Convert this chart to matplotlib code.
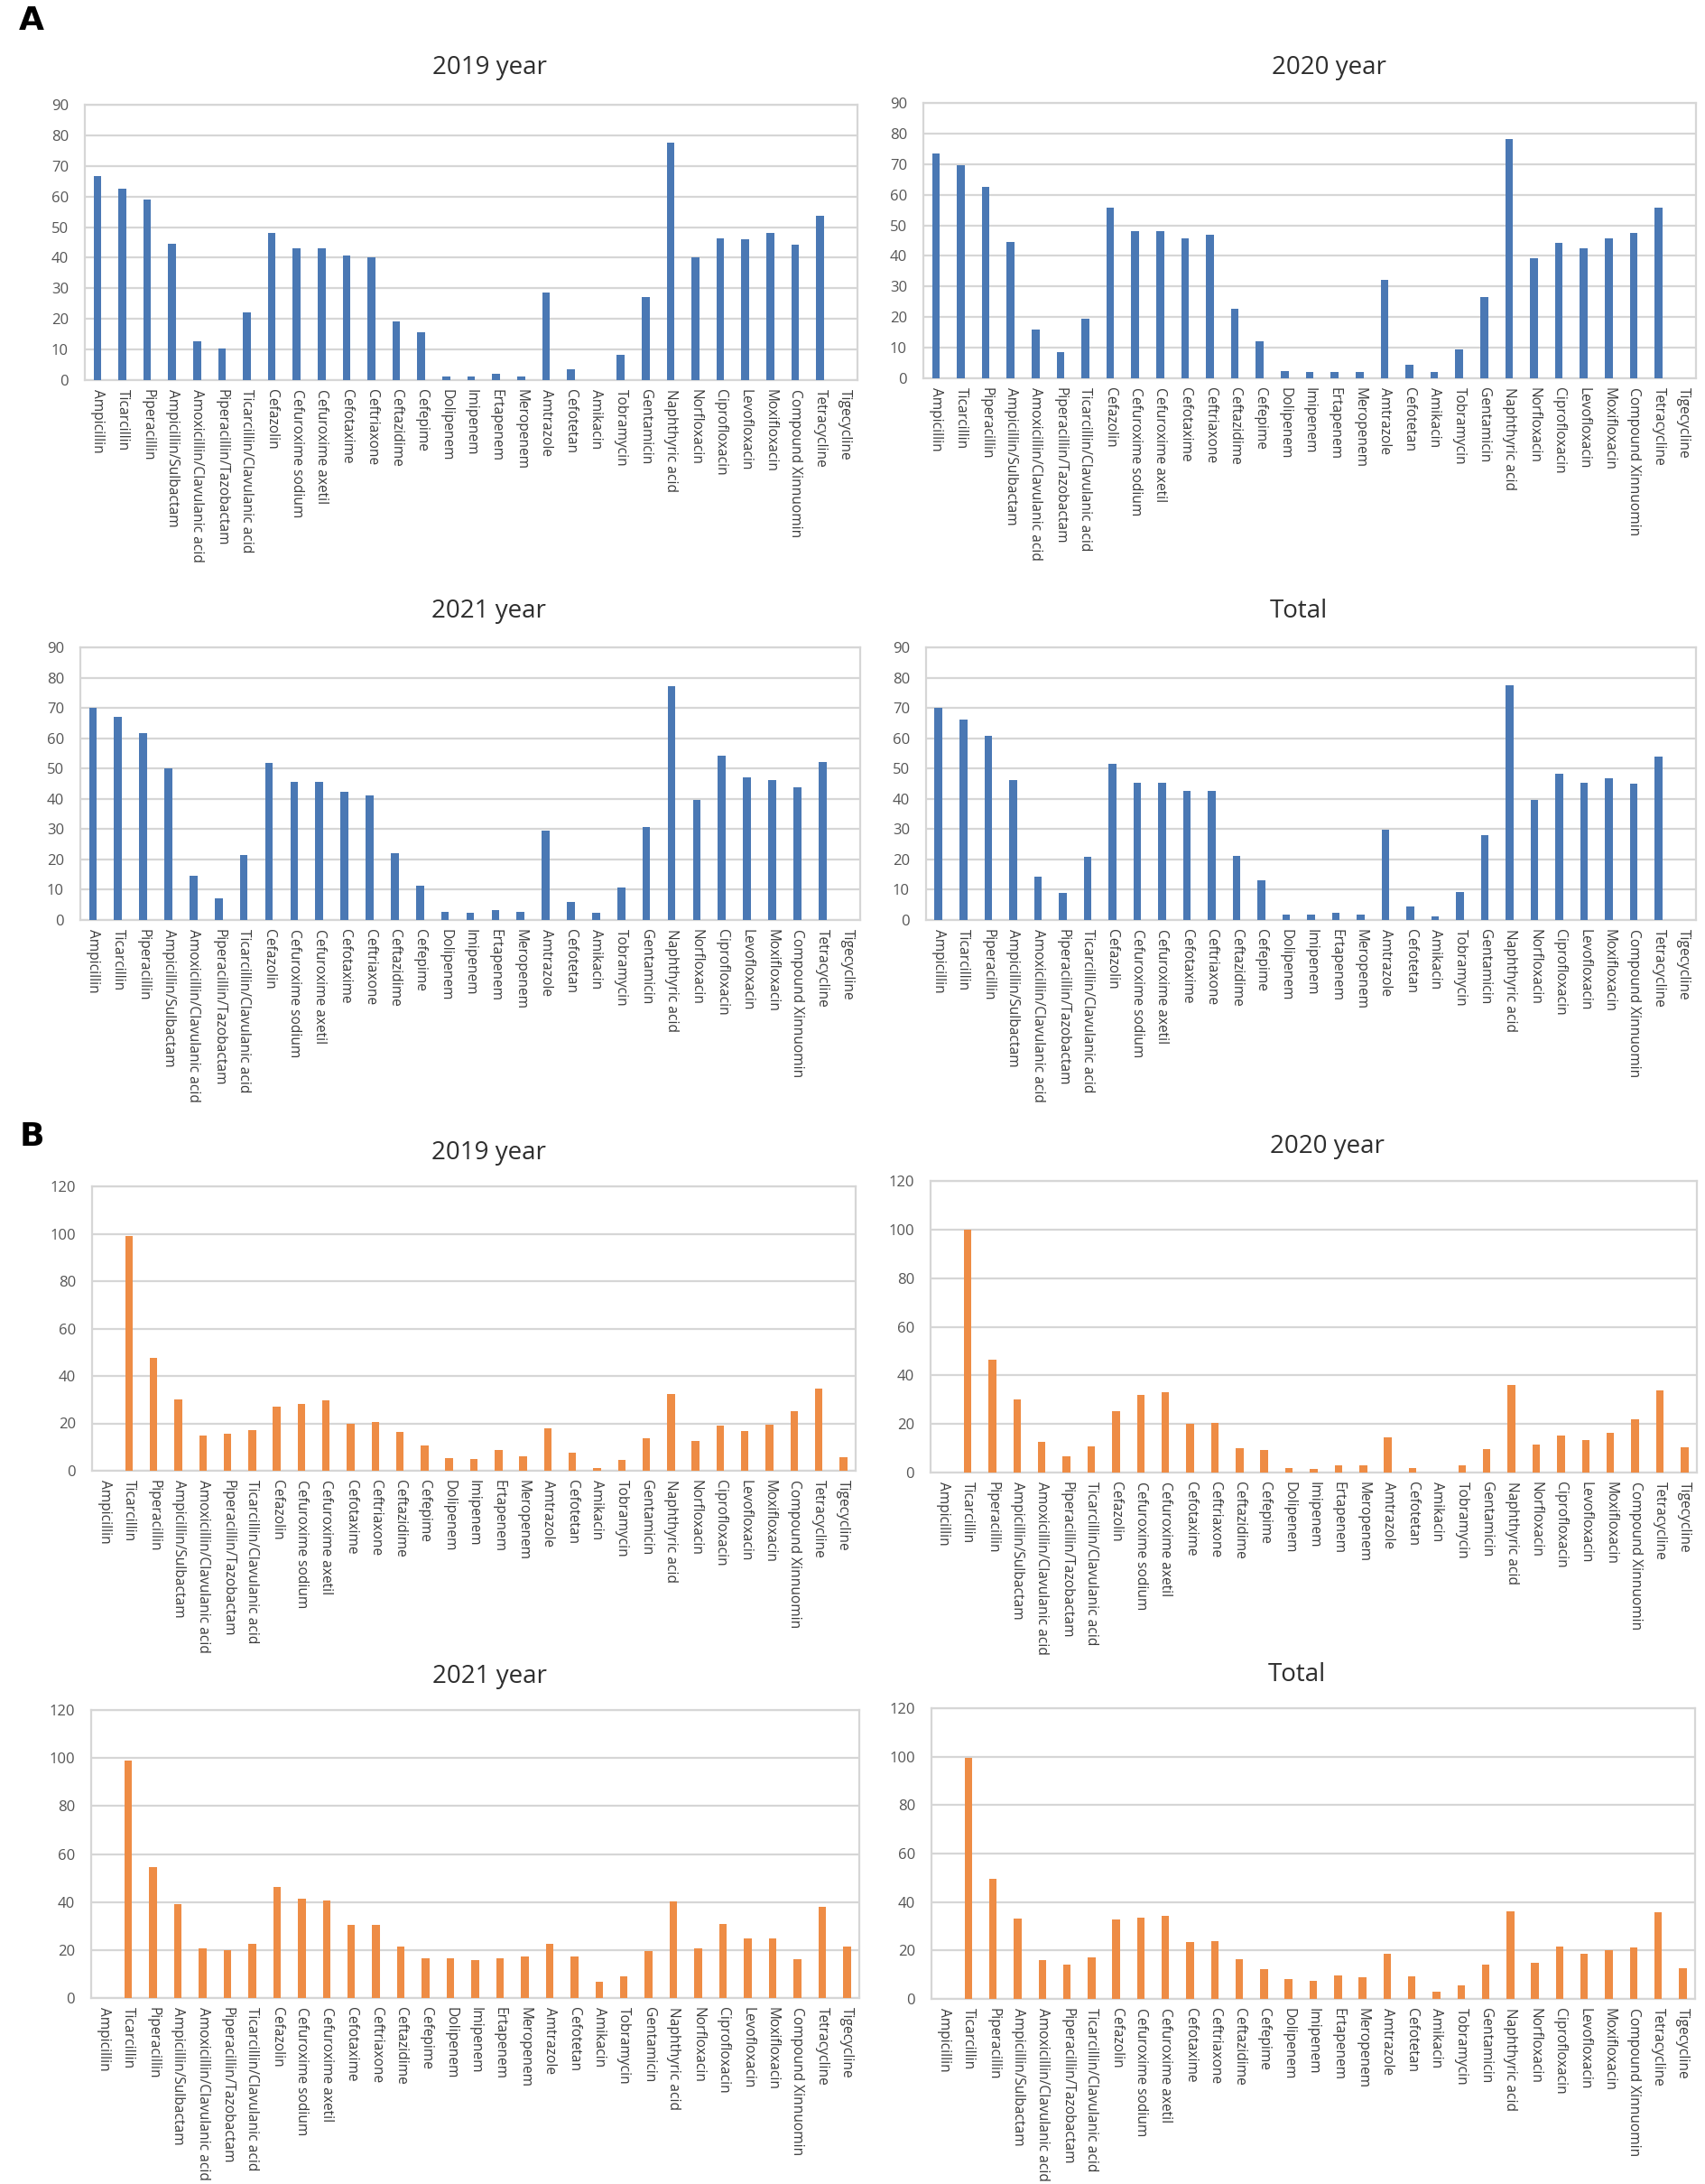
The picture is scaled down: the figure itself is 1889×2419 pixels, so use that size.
import matplotlib
matplotlib.use("Agg")
import matplotlib.pyplot as plt

drugs = ["Ampicillin", "Ticarcillin", "Piperacillin", "Ampicillin/Sulbactam",
         "Amoxicillin/Clavulanic acid", "Piperacillin/Tazobactam",
         "Ticarcillin/Clavulanic acid", "Cefazolin", "Cefuroxime sodium",
         "Cefuroxime axetil", "Cefotaxime", "Ceftriaxone", "Ceftazidime",
         "Cefepime", "Dolipenem", "Imipenem", "Ertapenem", "Meropenem",
         "Amtrazole", "Cefotetan", "Amikacin", "Tobramycin", "Gentamicin",
         "Naphthyric acid", "Norfloxacin", "Ciprofloxacin", "Levofloxacin",
         "Moxifloxacin", "Compound Xinnuomin", "Tetracycline", "Tigecycline"]

# panel A (blue)
a_2019 = [66.6, 62.7, 58.9, 44.5, 12.7, 10.2, 22.0, 48.1, 43.0, 43.0, 40.6, 40.2,
          19.3, 15.7, 1.1, 1.3, 2.2, 1.1, 28.5, 3.6, 0, 8.4, 27.2, 77.6, 40.2,
          46.3, 46.0, 48.1, 44.2, 53.6, 0]
a_2020 = [73.6, 69.6, 62.5, 44.6, 16.0, 8.7, 19.5, 55.9, 48.1, 48.1, 45.7, 46.9,
          22.8, 12.0, 2.3, 2.0, 2.0, 2.0, 32.1, 4.5, 2.0, 9.4, 26.5, 78.2, 39.1,
          44.4, 42.5, 45.7, 47.4, 55.9, 0]
a_2021 = [69.9, 67.2, 61.8, 50.1, 14.7, 7.3, 21.5, 52.0, 45.5, 45.5, 42.2, 41.1,
          22.2, 11.4, 2.8, 2.3, 3.4, 2.8, 29.5, 5.9, 2.3, 10.7, 30.7, 77.2, 39.6,
          54.2, 47.1, 46.2, 43.8, 52.3, 0]
a_total = [69.9, 66.3, 60.8, 46.3, 14.3, 8.8, 21.0, 51.7, 45.2, 45.2, 42.6, 42.6,
           21.1, 13.2, 1.8, 1.8, 2.5, 1.8, 29.8, 4.6, 1.3, 9.3, 28.0, 77.6, 39.7,
           48.2, 45.2, 46.8, 45.0, 53.9, 0]

# panel B (orange)
b_2019 = [0, 98.9, 47.7, 30.2, 14.7, 15.7, 17.3, 27.0, 28.1, 29.6, 19.9, 20.6,
          16.3, 10.8, 5.5, 5.0, 8.9, 6.2, 17.9, 7.7, 1.3, 4.6, 13.6, 32.4, 12.6,
          18.9, 16.8, 19.4, 25.3, 34.8, 5.6]
b_2020 = [0, 100.0, 46.3, 30.0, 12.8, 6.6, 10.9, 25.4, 31.8, 33.1, 19.9, 20.6,
          10.2, 9.2, 1.9, 1.4, 3.1, 3.1, 14.5, 1.9, 0, 3.1, 9.7, 36.0, 11.5,
          15.1, 13.3, 16.2, 21.8, 33.7, 10.3]
b_2021 = [0, 98.8, 54.5, 39.1, 20.6, 20.1, 22.7, 46.3, 41.4, 40.8, 30.3, 30.3,
          21.6, 16.7, 16.7, 15.7, 16.7, 17.3, 22.7, 17.3, 6.9, 9.2, 19.4, 40.3, 20.6,
          31.0, 24.8, 24.8, 16.2, 38.1, 21.6]
b_total = [0, 99.4, 49.6, 33.1, 16.1, 14.3, 17.2, 32.9, 33.7, 34.3, 23.6, 23.8,
           16.4, 12.4, 8.2, 7.4, 9.8, 9.1, 18.5, 9.2, 2.9, 5.7, 14.3, 36.2, 15.0,
           21.8, 18.5, 20.2, 21.2, 35.6, 12.6]

W, H = 1890, 2419
BLUE = "#4a78b4"
ORANGE = "#ee8c45"
GRID = "#d6d6d6"
FONT = ["Open Sans", "DejaVu Sans"]

fig = plt.figure(figsize=(W / 100, H / 100), dpi=100)


def add_panel(box, values, color, ymax, ystep, title, title_xy):
    left, top, right, bottom = box
    ax = fig.add_axes([left / W, 1 - bottom / H, (right - left) / W, (bottom - top) / H])
    x = range(len(drugs))
    ax.bar(x, values, width=0.31, color=color, zorder=3)
    ax.set_xlim(-0.5, len(drugs) - 0.5)
    ax.set_ylim(0, ymax)
    ax.set_yticks(range(0, ymax + 1, ystep))
    ax.set_xticks(list(x))
    ax.set_xticklabels(drugs, rotation=-90, ha="center", va="top",
                       fontsize=11.2, color="#3a3a3a", family=FONT)
    for lab in ax.get_yticklabels():
        lab.set_fontsize(12)
        lab.set_color("#555555")
        lab.set_family(FONT)
    ax.tick_params(axis="both", length=0)
    ax.tick_params(axis="x", pad=7)
    ax.tick_params(axis="y", pad=13)
    ax.grid(axis="y", color=GRID, linewidth=1.6, zorder=0)
    for s in ax.spines.values():
        s.set_color(GRID)
        s.set_linewidth(1.6)
    fig.text(title_xy[0] / W, 1 - title_xy[1] / H, title, ha="center", va="center",
             fontsize=20, color="#2e2e2e", family=FONT)
    return ax


add_panel((94, 116, 950, 421), a_2019, BLUE, 90, 10, "2019 year", (542, 75))
add_panel((1023, 114, 1879, 419), a_2020, BLUE, 90, 10, "2020 year", (1472, 75))
add_panel((89, 717, 953, 1019), a_2021, BLUE, 90, 10, "2021 year", (541, 677))
add_panel((1026, 717, 1879, 1019), a_total, BLUE, 90, 10, "Total", (1439, 677))

add_panel((102, 1314, 948, 1629), b_2019, ORANGE, 120, 20, "2019 year", (541, 1277))
add_panel((1031, 1308, 1880, 1631), b_2020, ORANGE, 120, 20, "2020 year", (1470, 1270))
add_panel((101, 1894, 952, 2213), b_2021, ORANGE, 120, 20, "2021 year", (542, 1857))
add_panel((1032, 1892, 1878, 2214), b_total, ORANGE, 120, 20, "Total", (1437, 1855))

fig.text(35 / W, 1 - 23 / H, "A", ha="center", va="center", fontsize=26,
         fontweight="bold", family=["Liberation Sans Narrow", "DejaVu Sans"])
fig.text(35 / W, 1 - 1259 / H, "B", ha="center", va="center", fontsize=26,
         fontweight="bold", family=["Liberation Sans Narrow", "DejaVu Sans"])

fig.savefig("out.png", dpi=100, facecolor="white")
